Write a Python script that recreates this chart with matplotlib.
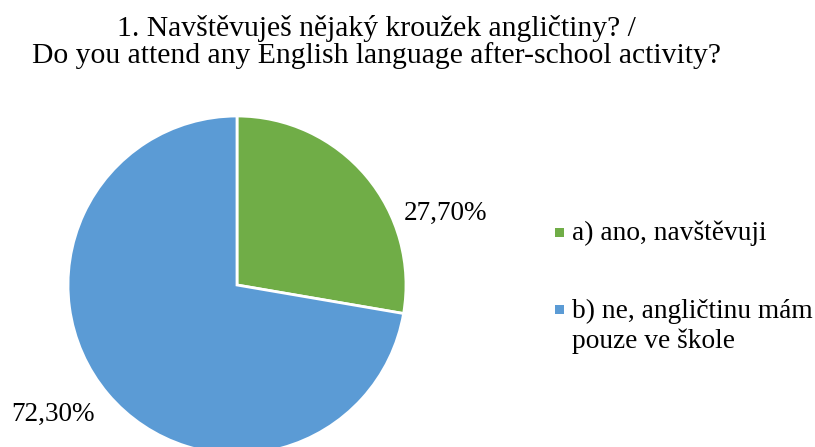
import matplotlib
matplotlib.use("Agg")
import matplotlib.pyplot as plt
from matplotlib.patches import Rectangle

# data
labels = ["a) ano, navštěvuji", "b) ne, angličtinu mám\npouze ve škole"]
values = [27.7, 72.3]
value_texts = ["27,70%", "72,30%"]
colors = ["#70AD47", "#5B9BD5"]
title = "1. Navštěvuješ nějaký kroužek angličtiny? /\nDo you attend any English language after-school activity?"

plt.rcParams["font.family"] = ["Liberation Serif", "DejaVu Serif"]

W, H = 815, 447
fig = plt.figure(figsize=(W / 100, H / 100), dpi=100)

# pie centre ~(237, 285) px, radius ~169 px
cx, cy, r = 237, 285, 169
ax = fig.add_axes([(cx - r) / W, (H - cy - r) / H, 2 * r / W, 2 * r / H])
wedges, _ = ax.pie(values, colors=colors, startangle=90, counterclock=False,
                   radius=1, wedgeprops=dict(edgecolor="white", linewidth=2))
ax.set_xlim(-1, 1)
ax.set_ylim(-1, 1)
ax.set_aspect("equal")
ax.axis("off")

# value labels
fig.text(446 / W, 1 - 213 / H, value_texts[0], fontsize=19.5, ha="center", va="center")
fig.text(53 / W, 1 - 414 / H, value_texts[1], fontsize=19.5, ha="center", va="center")

fig.text(376 / W, 1 - 42 / H, title, fontsize=21.3, ha="center", va="center",
         linespacing=1.0)

# legend drawn by hand: square + text lines, marker aligned with first line
marker_y = [232, 309]
for c, lab, y in zip(colors, labels, marker_y):
    fig.patches.append(Rectangle(((559 - 4.5) / W, (H - y - 4.5) / H), 9 / W, 9 / H,
                                 transform=fig.transFigure, facecolor=c,
                                 edgecolor="none"))
    for i, line in enumerate(lab.split("\n")):
        base = y + 8.5 + i * 31
        fig.text(572 / W, 1 - base / H, line, fontsize=19.7, ha="left",
                 va="baseline")

fig.savefig("out.png", dpi=100)
